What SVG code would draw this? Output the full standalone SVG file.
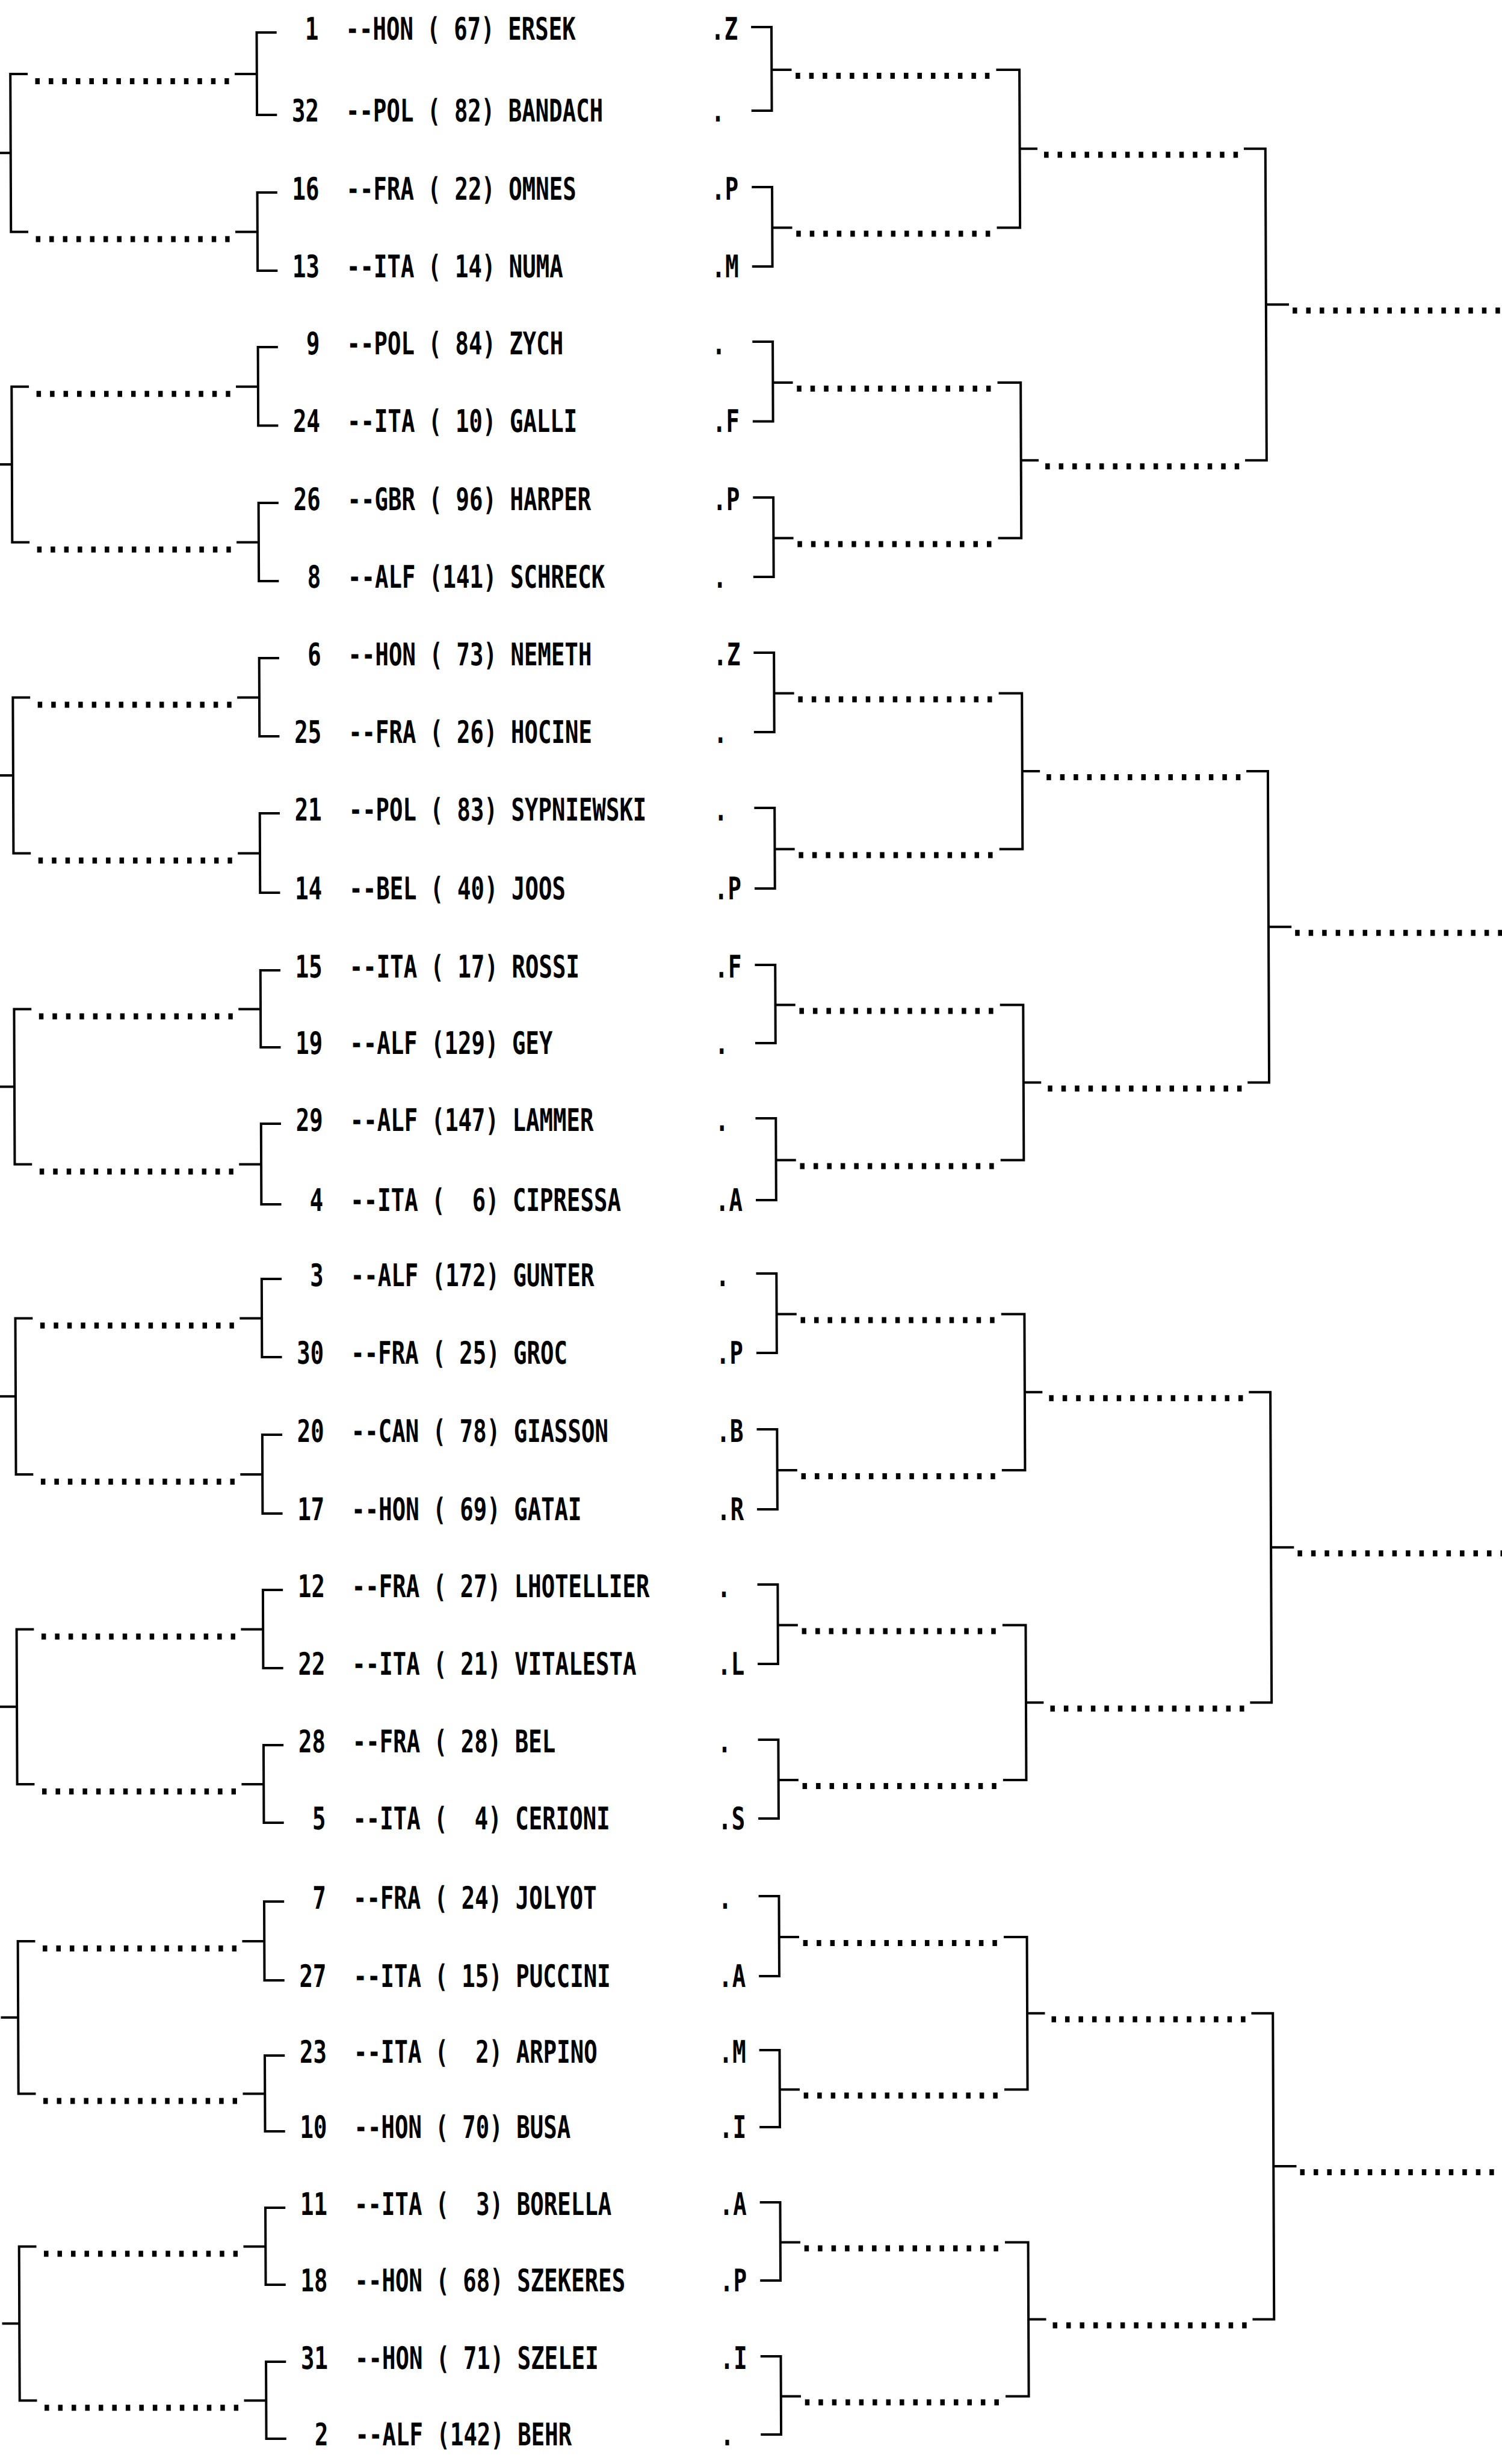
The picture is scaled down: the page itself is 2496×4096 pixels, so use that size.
<svg xmlns="http://www.w3.org/2000/svg" width="2496" height="4096" viewBox="0 0 2496 4096">
<style>
.t{font-family:"DejaVu Sans Mono","Liberation Mono",monospace;font-size:51.7px;font-weight:bold;fill:#000;white-space:pre}
.s{text-anchor:end}
.ln{fill:none;stroke:#000;stroke-width:4;stroke-linecap:square}
.dt{fill:none;stroke:#000;stroke-width:10;stroke-dasharray:7.5 14.975}
</style>
<rect width="2496" height="4096" fill="#fff"/>
<g transform="skewX(0.23)">
<g id="connectors">
<path class="ln" d="M1250,45H1281.8V184H1250M1281.8,116H1313M1250,311H1281.8V443H1250M1281.8,378.5H1313M1250,568H1281.8V700.5H1250M1281.8,636H1313M1250,827H1281.8V959H1250M1281.8,894.5H1313M1250,1085H1281.8V1217H1250M1281.8,1152.5H1313M1250,1343H1281.8V1477H1250M1281.8,1411.5H1313M1250,1604H1281.8V1734H1250M1281.8,1670.5H1313M1250,1859H1281.8V1995H1250M1281.8,1928.5H1313M1250,2117H1281.8V2249H1250M1281.8,2184.5H1313M1250,2376H1281.8V2509H1250M1281.8,2444H1313M1250,2634H1281.8V2766H1250M1281.8,2701.5H1313M1250,2892H1281.8V3023H1250M1281.8,2959H1313M1250,3152H1281.8V3285H1250M1281.8,3220H1313M1250,3408H1281.8V3536H1250M1281.8,3473.5H1313M1250,3661H1281.8V3791H1250M1281.8,3727.5H1313M1250,3917H1281.8V4047H1250M1281.8,3983.5H1313"/>
<path class="dt" d="M1321.7,126H1650M1321.7,388.5H1650M1321.7,646H1650M1321.7,904.5H1650M1321.7,1162.5H1650M1321.7,1421.5H1650M1321.7,1680.5H1650M1321.7,1938.5H1650M1321.7,2194.5H1650M1321.7,2454H1650M1321.7,2711.5H1650M1321.7,2969H1650M1321.7,3230H1650M1321.7,3483.5H1650M1321.7,3737.5H1650M1321.7,3993.5H1650"/>
<path class="ln" d="M1657,116H1693.6V378.5H1657M1693.6,247.25H1721M1657,636H1693.6V894.5H1657M1693.6,765.25H1721M1657,1152.5H1693.6V1411.5H1657M1693.6,1282H1721M1657,1670.5H1693.6V1928.5H1657M1693.6,1799.5H1721M1657,2184.5H1693.6V2444H1657M1693.6,2314.25H1721M1657,2701.5H1693.6V2959H1657M1693.6,2830.25H1721M1657,3220H1693.6V3473.5H1657M1693.6,3346.75H1721M1657,3727.5H1693.6V3983.5H1657M1693.6,3855.5H1721"/>
<path class="dt" d="M1734,257.25H2058M1734,775.25H2058M1734,1292H2058M1734,1809.5H2058M1734,2324.25H2058M1734,2840.25H2058M1734,3356.75H2058M1734,3865.5H2058"/>
<path class="ln" d="M2068,247.25H2101.8V765.25H2068M2101.8,506.25H2138M2068,1282H2101.8V1799.5H2068M2101.8,1540.75H2138M2068,2314.25H2101.8V2830.25H2068M2101.8,2572.25H2138M2068,3346.75H2101.8V3855.5H2068M2101.8,3601.1H2138"/>
<path class="dt" d="M2146,516.25H2510M2146,1550.75H2510M2146,2582.25H2510M2146,3611.1H2510"/>
<path class="ln" d="M457.5,54H426.3V191H457.5M426.3,123H391.5M457.5,320H426.3V450H457.5M426.3,385.5H391.5M457.5,577H426.3V707.5H457.5M426.3,642.75H391.5M457.5,836H426.3V966H457.5M426.3,901.5H391.5M457.5,1094H426.3V1224H457.5M426.3,1159.5H391.5M457.5,1352H426.3V1484H457.5M426.3,1418.5H391.5M457.5,1613H426.3V1741H457.5M426.3,1677.5H391.5M457.5,1868H426.3V2002H457.5M426.3,1935.5H391.5M457.5,2126H426.3V2256H457.5M426.3,2191.5H391.5M457.5,2385H426.3V2516H457.5M426.3,2451H391.5M457.5,2643H426.3V2773H457.5M426.3,2708.5H391.5M457.5,2901H426.3V3030H457.5M426.3,2966H391.5M457.5,3161H426.3V3292H457.5M426.3,3227H391.5M457.5,3417H426.3V3543H457.5M426.3,3480.5H391.5M457.5,3670H426.3V3798H457.5M426.3,3734.5H391.5M457.5,3926H426.3V4054H457.5M426.3,3990.5H391.5"/>
<path class="dt" d="M58,135H380M58,397.5H380M58,654.75H380M58,913.5H380M58,1171.5H380M58,1430.5H380M58,1689.5H380M58,1947.5H380M58,2203.5H380M58,2463H380M58,2720.5H380M58,2978H380M58,3239H380M58,3492.5H380M58,3746.5H380M58,4002.5H380"/>
<path class="ln" d="M43.5,123H16.7V385.5H43.5M16.7,254.25H-10M43.5,642.75H16.7V901.5H43.5M16.7,772.1H-10M43.5,1159.5H16.7V1418.5H43.5M16.7,1289H-10M43.5,1677.5H16.7V1935.5H43.5M16.7,1806.5H-10M43.5,2191.5H16.7V2451H43.5M16.7,2321.25H-10M43.5,2708.5H16.7V2966H43.5M16.7,2837.25H-10M43.5,3227H16.7V3480.5H43.5M16.7,3353.75H-10M43.5,3734.5H16.7V3990.5H43.5M16.7,3862.5H-10"/>
</g>
<g transform="scale(0.7226,1)" xml:space="preserve">
<g id="r01"><text class="t s" x="732.4" y="66">1</text><text class="t" x="794.6" y="66">--HON ( 67) ERSEK</text><text class="t" x="1634.4" y="66">.Z</text></g>
<g id="r02"><text class="t s" x="732.4" y="202">32</text><text class="t" x="794.6" y="202">--POL ( 82) BANDACH</text><text class="t" x="1634.4" y="202">.</text></g>
<g id="r03"><text class="t s" x="732.4" y="332">16</text><text class="t" x="794.6" y="332">--FRA ( 22) OMNES</text><text class="t" x="1634.4" y="332">.P</text></g>
<g id="r04"><text class="t s" x="732.4" y="461">13</text><text class="t" x="794.6" y="461">--ITA ( 14) NUMA</text><text class="t" x="1634.4" y="461">.M</text></g>
<g id="r05"><text class="t s" x="732.4" y="589">9</text><text class="t" x="794.6" y="589">--POL ( 84) ZYCH</text><text class="t" x="1634.4" y="589">.</text></g>
<g id="r06"><text class="t s" x="732.4" y="718.5">24</text><text class="t" x="794.6" y="718.5">--ITA ( 10) GALLI</text><text class="t" x="1634.4" y="718.5">.F</text></g>
<g id="r07"><text class="t s" x="732.4" y="848">26</text><text class="t" x="794.6" y="848">--GBR ( 96) HARPER</text><text class="t" x="1634.4" y="848">.P</text></g>
<g id="r08"><text class="t s" x="732.4" y="977">8</text><text class="t" x="794.6" y="977">--ALF (141) SCHRECK</text><text class="t" x="1634.4" y="977">.</text></g>
<g id="r09"><text class="t s" x="732.4" y="1106">6</text><text class="t" x="794.6" y="1106">--HON ( 73) NEMETH</text><text class="t" x="1634.4" y="1106">.Z</text></g>
<g id="r10"><text class="t s" x="732.4" y="1235">25</text><text class="t" x="794.6" y="1235">--FRA ( 26) HOCINE</text><text class="t" x="1634.4" y="1235">.</text></g>
<g id="r11"><text class="t s" x="732.4" y="1364">21</text><text class="t" x="794.6" y="1364">--POL ( 83) SYPNIEWSKI</text><text class="t" x="1634.4" y="1364">.</text></g>
<g id="r12"><text class="t s" x="732.4" y="1495">14</text><text class="t" x="794.6" y="1495">--BEL ( 40) JOOS</text><text class="t" x="1634.4" y="1495">.P</text></g>
<g id="r13"><text class="t s" x="732.4" y="1625">15</text><text class="t" x="794.6" y="1625">--ITA ( 17) ROSSI</text><text class="t" x="1634.4" y="1625">.F</text></g>
<g id="r14"><text class="t s" x="732.4" y="1752">19</text><text class="t" x="794.6" y="1752">--ALF (129) GEY</text><text class="t" x="1634.4" y="1752">.</text></g>
<g id="r15"><text class="t s" x="732.4" y="1880">29</text><text class="t" x="794.6" y="1880">--ALF (147) LAMMER</text><text class="t" x="1634.4" y="1880">.</text></g>
<g id="r16"><text class="t s" x="732.4" y="2013">4</text><text class="t" x="794.6" y="2013">--ITA (  6) CIPRESSA</text><text class="t" x="1634.4" y="2013">.A</text></g>
<g id="r17"><text class="t s" x="732.4" y="2138">3</text><text class="t" x="794.6" y="2138">--ALF (172) GUNTER</text><text class="t" x="1634.4" y="2138">.</text></g>
<g id="r18"><text class="t s" x="732.4" y="2267">30</text><text class="t" x="794.6" y="2267">--FRA ( 25) GROC</text><text class="t" x="1634.4" y="2267">.P</text></g>
<g id="r19"><text class="t s" x="732.4" y="2397">20</text><text class="t" x="794.6" y="2397">--CAN ( 78) GIASSON</text><text class="t" x="1634.4" y="2397">.B</text></g>
<g id="r20"><text class="t s" x="732.4" y="2527">17</text><text class="t" x="794.6" y="2527">--HON ( 69) GATAI</text><text class="t" x="1634.4" y="2527">.R</text></g>
<g id="r21"><text class="t s" x="732.4" y="2655">12</text><text class="t" x="794.6" y="2655">--FRA ( 27) LHOTELLIER</text><text class="t" x="1634.4" y="2655">.</text></g>
<g id="r22"><text class="t s" x="732.4" y="2784">22</text><text class="t" x="794.6" y="2784">--ITA ( 21) VITALESTA</text><text class="t" x="1634.4" y="2784">.L</text></g>
<g id="r23"><text class="t s" x="732.4" y="2913">28</text><text class="t" x="794.6" y="2913">--FRA ( 28) BEL</text><text class="t" x="1634.4" y="2913">.</text></g>
<g id="r24"><text class="t s" x="732.4" y="3041">5</text><text class="t" x="794.6" y="3041">--ITA (  4) CERIONI</text><text class="t" x="1634.4" y="3041">.S</text></g>
<g id="r25"><text class="t s" x="732.4" y="3173">7</text><text class="t" x="794.6" y="3173">--FRA ( 24) JOLYOT</text><text class="t" x="1634.4" y="3173">.</text></g>
<g id="r26"><text class="t s" x="732.4" y="3303">27</text><text class="t" x="794.6" y="3303">--ITA ( 15) PUCCINI</text><text class="t" x="1634.4" y="3303">.A</text></g>
<g id="r27"><text class="t s" x="732.4" y="3429">23</text><text class="t" x="794.6" y="3429">--ITA (  2) ARPINO</text><text class="t" x="1634.4" y="3429">.M</text></g>
<g id="r28"><text class="t s" x="732.4" y="3554">10</text><text class="t" x="794.6" y="3554">--HON ( 70) BUSA</text><text class="t" x="1634.4" y="3554">.I</text></g>
<g id="r29"><text class="t s" x="732.4" y="3682">11</text><text class="t" x="794.6" y="3682">--ITA (  3) BORELLA</text><text class="t" x="1634.4" y="3682">.A</text></g>
<g id="r30"><text class="t s" x="732.4" y="3809">18</text><text class="t" x="794.6" y="3809">--HON ( 68) SZEKERES</text><text class="t" x="1634.4" y="3809">.P</text></g>
<g id="r31"><text class="t s" x="732.4" y="3938">31</text><text class="t" x="794.6" y="3938">--HON ( 71) SZELEI</text><text class="t" x="1634.4" y="3938">.I</text></g>
<g id="r32"><text class="t s" x="732.4" y="4065">2</text><text class="t" x="794.6" y="4065">--ALF (142) BEHR</text><text class="t" x="1634.4" y="4065">.</text></g>
</g>
</g>
</svg>
